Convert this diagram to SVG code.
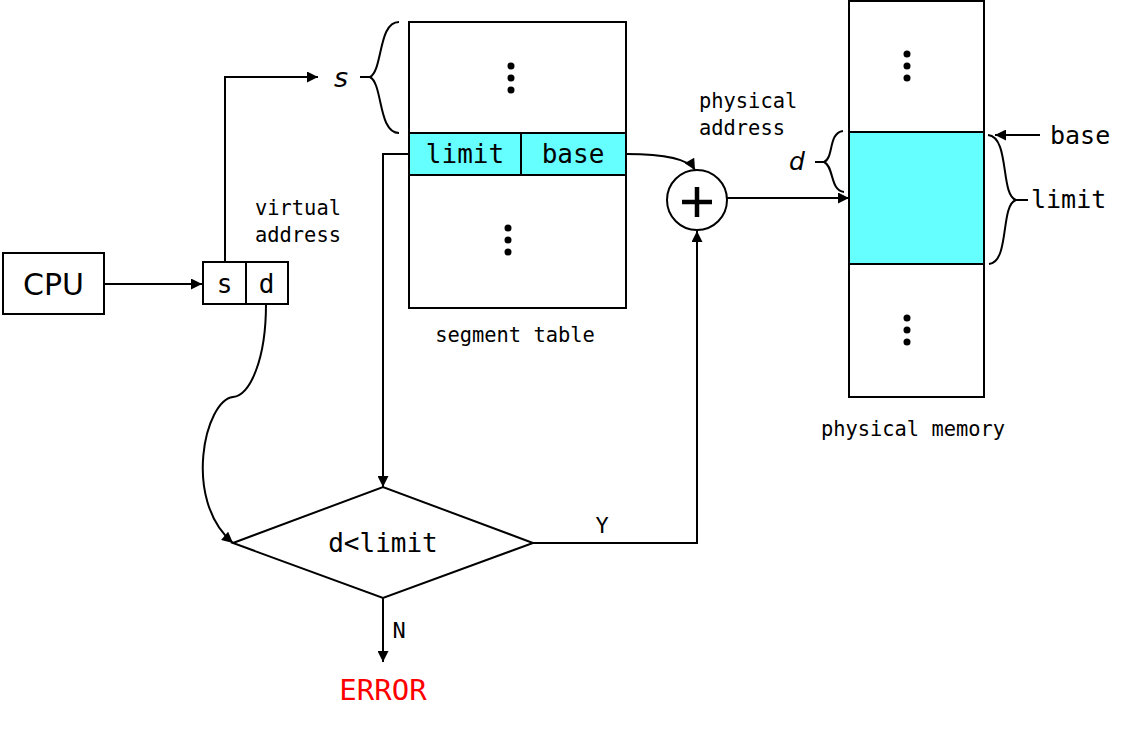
<svg xmlns="http://www.w3.org/2000/svg" width="1148" height="730" viewBox="0 0 1148 730">
<defs>
<marker id="ah" viewBox="0 0 10 10" refX="10" refY="5" markerWidth="12" markerHeight="11" markerUnits="userSpaceOnUse" orient="auto"><path d="M0,0 L10,5 L0,10 z" fill="#000"/></marker>
<style>
.ln{fill:none;stroke:#000;stroke-width:2}
.bx{fill:#fff;stroke:#000;stroke-width:2}
.cy{fill:#66ffff;stroke:#000;stroke-width:2}
.mono{font-family:"DejaVu Sans Mono","Liberation Mono",monospace;fill:#000}
.sm{font-size:20.4px}
.big{font-size:26px}
.it{font-family:"DejaVu Sans","Liberation Sans",sans-serif;font-style:italic;fill:#000}
</style>
</defs>
<rect width="1148" height="730" fill="#fff"/>
<g id="cpu">
<rect class="bx" x="3" y="253" width="101" height="61"/>
<text x="53.5" y="295" font-family="DejaVu Sans,Liberation Sans,sans-serif" font-size="30" text-anchor="middle">CPU</text>
</g>
<g id="vaddr">
<rect class="bx" x="203" y="262" width="85" height="42"/>
<line class="ln" x1="246" y1="262" x2="246" y2="304"/>
<text class="mono big" x="224.5" y="293" text-anchor="middle">s</text>
<text class="mono big" x="266.5" y="293" text-anchor="middle">d</text>
<text class="mono sm" x="255" y="215">virtual</text>
<text class="mono sm" x="255" y="242">address</text>
</g>
<g id="segtable">
<rect class="bx" x="409" y="22" width="217" height="286"/>
<rect class="cy" x="409" y="133" width="217" height="42"/>
<line class="ln" x1="521" y1="133" x2="521" y2="175"/>
<text class="mono big" x="465" y="163" text-anchor="middle">limit</text>
<text class="mono big" x="573" y="163" text-anchor="middle">base</text>
<circle cx="511" cy="66" r="3.5"/><circle cx="511" cy="78" r="3.5"/><circle cx="511" cy="90" r="3.5"/>
<circle cx="508" cy="228" r="3.5"/><circle cx="508" cy="240" r="3.5"/><circle cx="508" cy="252" r="3.5"/>
<text class="mono sm" x="515" y="342" text-anchor="middle">segment table</text>
<path class="ln" d="M399,22 C378,22 383,70 370,77 L360,77 M370,77 C383,84 378,133 399,133"/>
<text class="it" x="341" y="87" font-size="27" text-anchor="middle">s</text>
</g>
<g id="decision">
<polygon class="bx" points="233,543 383,487 533,543 383,598"/>
<text class="mono big" x="383" y="552" text-anchor="middle">d&lt;limit</text>
</g>
<g id="error">
<text x="383" y="700" font-family="DejaVu Sans Mono,Liberation Mono,monospace" font-size="29" fill="#ff0000" text-anchor="middle">ERROR</text>
</g>
<g id="adder">
<circle class="bx" cx="697" cy="200" r="30"/>
<line x1="682" y1="202" x2="712" y2="202" stroke="#000" stroke-width="4.5"/>
<line x1="697" y1="187" x2="697" y2="217" stroke="#000" stroke-width="4.5"/>
<text class="mono sm" x="699" y="108">physical</text>
<text class="mono sm" x="699" y="135">address</text>
</g>
<g id="memory">
<rect class="bx" x="849" y="1" width="135" height="396"/>
<rect class="cy" x="849" y="132" width="135" height="132"/>
<circle cx="907" cy="54" r="3.5"/><circle cx="907" cy="66" r="3.5"/><circle cx="907" cy="78" r="3.5"/>
<circle cx="907" cy="318" r="3.5"/><circle cx="907" cy="330" r="3.5"/><circle cx="907" cy="342" r="3.5"/>
<text class="mono sm" x="913" y="436" text-anchor="middle">physical memory</text>
<path class="ln" d="M843,131 C828,133 834,158 824,162 L815,162 M824,162 C834,166 830,191 844,192"/>
<text class="it" x="797" y="170" font-size="25" text-anchor="middle">d</text>
<path class="ln" d="M988,135 C1010,137 1000,195 1016,200 L1028,200 M1016,200 C1000,205 1010,262 989,264"/>
<text class="mono" x="1031" y="208" font-size="25">limit</text>
<text class="mono" x="1050" y="144" font-size="25">base</text>
</g>
<g id="connectors">
<line class="ln" x1="104" y1="284" x2="202" y2="284" marker-end="url(#ah)"/>
<polyline class="ln" points="225,262 225,77 318,77" marker-end="url(#ah)"/>
<polyline class="ln" points="409,154 383,154 383,487" marker-end="url(#ah)"/>
<path class="ln" d="M266,304 C266,360 250,395 233,397 C205,400 182,500 233,543" marker-end="url(#ah)"/>
<polyline class="ln" points="533,543 697,543 697,231" marker-end="url(#ah)"/>
<line class="ln" x1="383" y1="598" x2="383" y2="662" marker-end="url(#ah)"/>
<path class="ln" d="M626,154 C660,154 688,158 695,170" marker-end="url(#ah)"/>
<line class="ln" x1="727" y1="198" x2="849" y2="198" marker-end="url(#ah)"/>
<line class="ln" x1="1040" y1="135" x2="995" y2="135" marker-end="url(#ah)"/>
<text class="mono" x="602" y="533" font-size="22" text-anchor="middle">Y</text>
<text class="mono" x="399" y="638" font-size="22" text-anchor="middle">N</text>
</g>
</svg>
